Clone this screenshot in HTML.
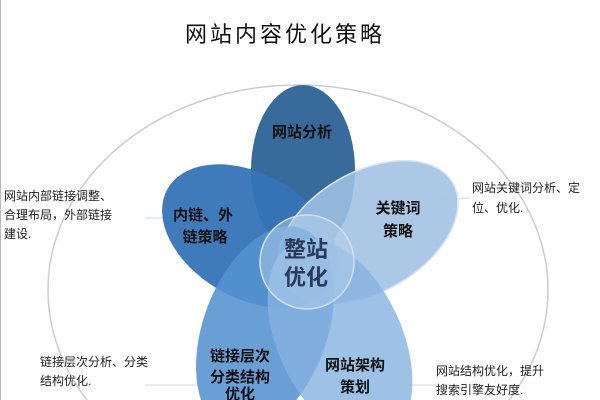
<!DOCTYPE html>
<html><head><meta charset="utf-8"><style>
html,body{margin:0;padding:0;background:#fff;width:600px;height:400px;overflow:hidden}
svg{display:block}
svg text{font-family:"Liberation Sans","Noto Sans CJK SC",sans-serif}
</style></head><body>
<svg width="600" height="400" viewBox="0 0 600 400" overflow="hidden">
<rect width="600" height="400" fill="#fff"/>
<line x1="0.5" y1="0" x2="0.5" y2="400" stroke="#bbb"/>
<text x="285" y="42" font-size="22" text-anchor="middle" fill="#111" letter-spacing="3">网站内容优化策略</text>
<ellipse cx="298" cy="290" rx="250" ry="205" fill="none" stroke="#ccc" stroke-width="1.5"/>
<g stroke="#dde6f0" stroke-width="1.5">
<line x1="210" y1="218" x2="145" y2="218"/>
<line x1="440" y1="200" x2="470" y2="198"/>
<line x1="200" y1="385" x2="145" y2="385"/>
<line x1="410" y1="385" x2="440" y2="385"/>
</g>
<ellipse cx="303" cy="170" rx="52" ry="85" fill="#396a9c"/>
<ellipse cx="250" cy="236" rx="95" ry="62" transform="rotate(30 250 236)" fill="#3574b6" fill-opacity="0.95"/>
<ellipse cx="368" cy="232" rx="98" ry="60" transform="rotate(-30 368 232)" fill="#9fc0e4" fill-opacity="0.88" stroke="#d8e6f4" stroke-width="1.5"/>
<ellipse cx="265" cy="330" rx="62" ry="108" transform="rotate(20 265 330)" fill="#5592d0" fill-opacity="0.88"/>
<ellipse cx="340" cy="340" rx="62" ry="108" transform="rotate(-25 340 340)" fill="#86b2e0" fill-opacity="0.8"/>
<circle cx="307" cy="262" r="47" fill="#b6d0ec" fill-opacity="0.5" stroke="#d0e0f2" stroke-width="1.5"/>
<g font-size="15" font-weight="bold" fill="#111" text-anchor="middle">
<text x="302" y="137">网站分析</text>
<text x="203" y="220">内链、外</text>
<text x="205" y="242">链策略</text>
<text x="398" y="213">关键词</text>
<text x="398" y="236">策略</text>
<text x="240" y="361">链接层次</text>
<text x="240" y="382">分类结构</text>
<text x="240" y="399">优化</text>
<text x="355" y="370">网站架构</text>
<text x="355" y="392">策划</text>
</g>
<g font-size="22" font-weight="bold" fill="#2a3a5a" text-anchor="middle">
<text x="306" y="257">整站</text>
<text x="306" y="285">优化</text>
</g>
<g font-size="12" fill="#222">
<text x="4" y="200">网站内部链接调整、</text>
<text x="4" y="219">合理布局，外部链接</text>
<text x="4" y="238">建设.</text>
<text x="472" y="192">网站关键词分析、定</text>
<text x="472" y="212">位、优化.</text>
<text x="40" y="366">链接层次分析、分类</text>
<text x="40" y="385">结构优化.</text>
<text x="436" y="375">网站结构优化，提升</text>
<text x="436" y="394">搜索引擎友好度.</text>
</g>
</svg>
</body></html>
